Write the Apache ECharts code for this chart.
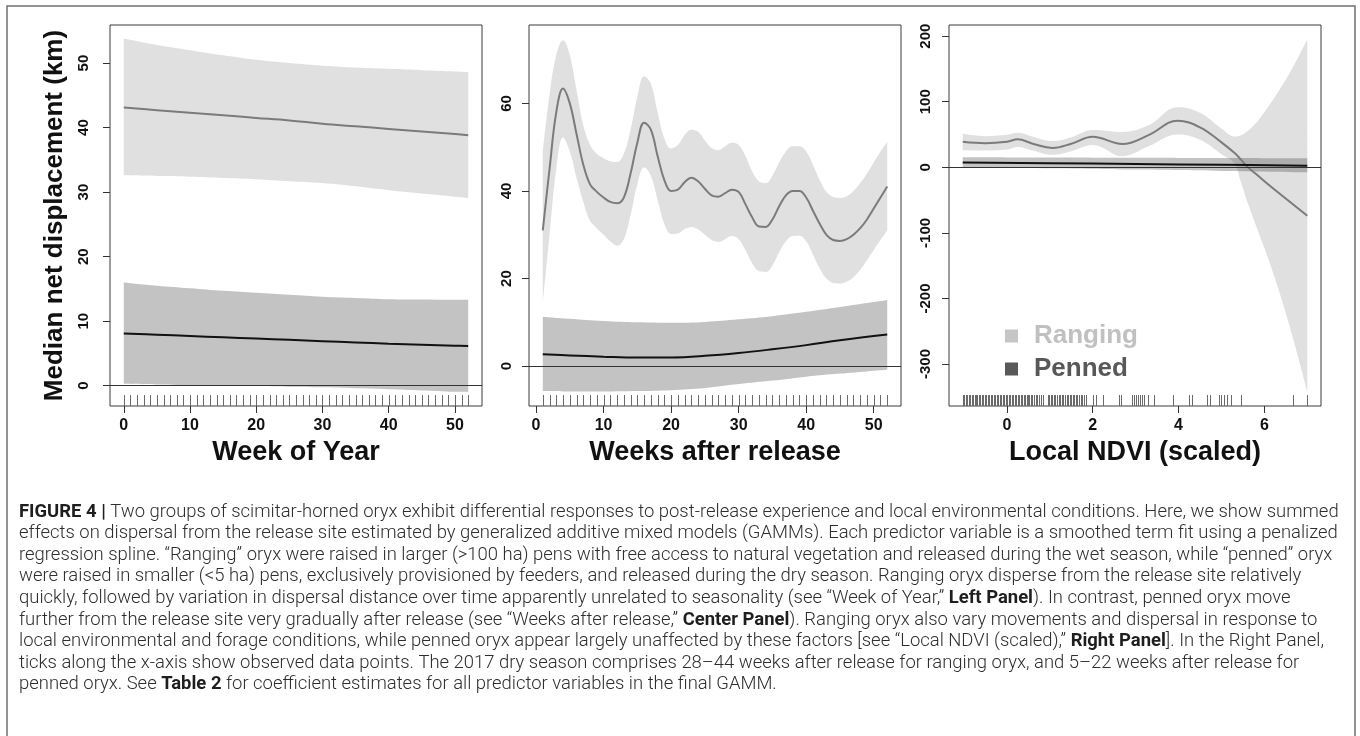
<!DOCTYPE html>
<html>
<head>
<meta charset="utf-8">
<script src="https://cdn.jsdelivr.net/npm/echarts@6/dist/echarts.min.js"></script>
<style>
  html, body { margin: 0; padding: 0; background: #fff; }
  #chart { width: 1360px; height: 736px; }
</style>
</head>
<body>
<div id="chart"></div>
<script>
// ---------- Left panel: Week of Year ----------
const woyX          = [0, 5, 10, 15, 20, 25, 30, 35, 40, 45, 50, 52];
const woyRangingFit = [43.1, 42.7, 42.3, 41.9, 41.5, 41.1, 40.6, 40.2, 39.8, 39.4, 39.0, 38.8];
const woyRangingHi  = [53.8, 52.8, 52.0, 51.2, 50.5, 50.0, 49.6, 49.3, 49.1, 48.9, 48.7, 48.6];
const woyRangingLo  = [32.6, 32.5, 32.4, 32.2, 32.0, 31.7, 31.4, 30.9, 30.3, 29.8, 29.3, 29.1];
const woyPennedFit  = [8.1, 7.9, 7.7, 7.5, 7.3, 7.1, 6.9, 6.7, 6.5, 6.35, 6.2, 6.15];
const woyPennedHi   = [16.0, 15.5, 15.1, 14.7, 14.4, 14.1, 13.8, 13.6, 13.4, 13.35, 13.3, 13.3];
const woyPennedLo   = [0.3, 0.2, 0.1, 0.0, -0.05, -0.15, -0.25, -0.4, -0.55, -0.75, -0.95, -1.0];
const woyRug = [0,1,2,3,4,5,6,7,8,9,10,11,12,13,14,15,16,17,18,19,20,21,22,23,24,25,26,
                27,28,29,30,31,32,33,34,35,36,37,38,39,40,41,42,43,44,45,46,47,48,49,50,51,52];
const woyTicks  = [0, 10, 20, 30, 40, 50];
const woyYTicks = [0, 10, 20, 30, 40, 50];

// ---------- Centre panel: Weeks after release ----------
const warX = [1,2,3,4,5,6,7,8,9,10,11,12,13,14,15,16,17,18,19,20,21,22,23,24,25,26,
              27,28,29,30,31,32,33,34,35,36,37,38,39,40,41,42,43,44,45,46,47,48,49,50,51,52];
const warRangingFit = [31.0,45,58,63.4,60,53,46,41.5,39.8,38.5,37.5,37.2,38.5,44,51,55.6,54,48,42.5,40,
                       40.3,42,43,42.2,40.5,39,38.7,39.5,40.3,39.8,37,34,31.9,31.8,33.5,36.5,39,40,40,38.5,
                       35.5,32.5,30,28.8,28.6,29,30,31.5,33.5,36,38.5,41];
const warRangingHi  = [49,62,71,74.4,71,63,55,50.5,48.5,47.5,46.8,46.6,48.5,54,61.5,66.2,64.5,58,52,49.7,
                       50.5,52.8,54,53.5,51.5,49.8,49.3,50.2,51,50.5,48,44.5,42.2,41.8,43.5,46.5,49,50.2,50.2,49,
                       46,42.5,39.8,38.6,38.4,38.8,40,41.8,44,46.5,49,51.2];
const warRangingLo  = [14.4,30,45,52.2,49,43,37.5,33.2,31.5,30,28.5,27.5,29,34.5,41.5,45.4,43.5,38,32.5,30.2,
                       30.3,31.3,31.8,31.2,30,28.8,28.4,29,29.7,29,26.5,23.5,21.7,21.5,23,26,28.5,29.7,29.8,28.5,
                       25.5,22.3,20,19,18.9,19.3,20.3,22,24.2,26.5,28.8,31];
const warPennedX   = [1, 5, 10, 15, 20, 25, 30, 35, 40, 45, 52];
const warPennedFit = [2.7, 2.45, 2.15, 1.95, 1.98, 2.35, 3.0, 3.85, 4.8, 5.9, 7.2];
const warPennedHi  = [11.3, 10.8, 10.3, 10.0, 9.9, 10.1, 10.7, 11.4, 12.4, 13.5, 15.1];
const warPennedLo  = [-5.7, -5.8, -5.8, -5.7, -5.5, -5.0, -4.1, -3.3, -2.4, -1.7, -0.8];
const warRug = warX;
const warTicks  = [0, 10, 20, 30, 40, 50];
const warYTicks = [0, 20, 40, 60];

// ---------- Right panel: Local NDVI (scaled) ----------
const ndviX          = [-1.03,-0.5,0,0.25,0.6,1.06,1.5,2.0,2.69,3.3,3.98,4.5,5.0,5.3,5.45,5.6,5.8,6.2,6.6,7.0];
const ndviRangingFit = [39,36.8,39,42.7,36,29.5,36,46.5,35.6,49,71,61,38,22,12,1,-10,-32,-53,-74];
const ndviRangingHi  = [51,47.5,49.5,52.5,46.5,40,46,57,54,64,91.5,83,59,47,48.5,55,67,103,145,195];
const ndviRangingLo  = [26,25.5,27,31,25.5,19,24.5,34,17,32,50,42,20,6,-22,-52,-88,-160,-245,-342];
const ndviPennedX   = [-1.03, 1, 3, 5, 7];
const ndviPennedFit = [7.5, 6.3, 5.0, 3.8, 2.5];
const ndviPennedHi  = [15.3, 14.9, 14.5, 14.1, 13.7];
const ndviPennedLo  = [0.5, -1.5, -3.5, -5.5, -7.6];
// observed NDVI values (rug)
const ndviRug = [
  -1.03,-0.99,-0.96,-0.93,-0.89,-0.86,-0.82,-0.79,-0.75,-0.72,-0.69,-0.65,-0.62,-0.58,-0.55,-0.51,
  -0.48,-0.44,-0.41,-0.38,-0.34,-0.31,-0.27,-0.24,-0.20,-0.17,-0.13,-0.10,-0.07,-0.03,0.01,0.04,
  0.08,0.11,0.15,0.18,0.21,0.25,0.28,0.32,0.35,0.39,0.42,0.46,0.49,0.52,0.56,0.59,0.63,0.67,0.71,
  0.75,0.79,0.85,
  0.95,0.99,1.02,1.06,1.10,1.13,1.17,1.21,1.24,1.28,1.31,1.35,1.39,1.42,1.46,1.50,1.53,1.57,1.61,
  1.64,1.68,1.72,1.76,1.80,1.84,
  2.01,2.07,2.24,2.61,2.67,2.92,2.96,3.00,3.05,3.10,3.15,3.20,3.28,3.43,3.86,4.25,4.31,4.67,4.74,
  4.94,5.00,5.06,5.12,5.23,5.45,6.66,6.99
];
const ndviTicks  = [0, 2, 4, 6];
const ndviYTicks = [-300, -200, -100, 0, 100, 200];

// ---------- Caption ----------
const captionLines = [
  '{b|FIGURE 4 |} Two groups of scimitar-horned oryx exhibit differential responses to post-release experience and local environmental conditions. Here, we show summed',
  'effects on dispersal from the release site estimated by generalized additive mixed models (GAMMs). Each predictor variable is a smoothed term fit using a penalized',
  'regression spline. \u201cRanging\u201d oryx were raised in larger (>100 ha) pens with free access to natural vegetation and released during the wet season, while \u201cpenned\u201d oryx',
  'were raised in smaller (<5 ha) pens, exclusively provisioned by feeders, and released during the dry season. Ranging oryx disperse from the release site relatively',
  'quickly, followed by variation in dispersal distance over time apparently unrelated to seasonality (see \u201cWeek of Year,\u201d {b|Left Panel}). In contrast, penned oryx move',
  'further from the release site very gradually after release (see \u201cWeeks after release,\u201d {b|Center Panel}). Ranging oryx also vary movements and dispersal in response to',
  'local environmental and forage conditions, while penned oryx appear largely unaffected by these factors [see \u201cLocal NDVI (scaled),\u201d {b|Right Panel}]. In the Right Panel,',
  'ticks along the x-axis show observed data points. The 2017 dry season comprises 28\u201344 weeks after release for ranging oryx, and 5\u201322 weeks after release for',
  'penned oryx. See {b|Table 2} for coefficient estimates for all predictor variables in the final GAMM.'
];

// ---------- Styling ----------
const FONT = 'Liberation Sans, Arial, sans-serif';
const CAP_FONT = 'Roboto';
const RANGING_BAND = 'rgba(120,120,120,0.23)';
const PENNED_BAND  = 'rgba(60,60,60,0.31)';
const RANGING_LINE = '#7b7b7b';
const PENNED_LINE  = '#111111';

const panels = [
  { left: 110, xMin: -2.08, xMax: 54.08, yMin: -3.15, yMax: 55.9, xTicks: woyTicks, yTicks: woyYTicks,
    xName: 'Week of Year', yName: 'Median net displacement (km)', yLabelMargin: 19 },
  { left: 529, xMin: -1.04, xMax: 54.04, yMin: -9.1, yMax: 77.9, xTicks: warTicks, yTicks: warYTicks,
    xName: 'Weeks after release', yName: '', yLabelMargin: 15 },
  { left: 949, xMin: -1.35, xMax: 7.32, yMin: -364, yMax: 217, xTicks: ndviTicks, yTicks: ndviYTicks,
    xName: 'Local NDVI (scaled)', yName: '', yLabelMargin: 16 }
];
const GRID_TOP = 25, GRID_W = 372, GRID_H = 381;

const grid = panels.map(p => ({
  left: p.left, top: GRID_TOP, width: GRID_W, height: GRID_H,
  show: true, borderColor: '#3a3a3a', borderWidth: 1, backgroundColor: '#fff'
}));

const xAxis = panels.map((p, i) => ({
  gridIndex: i, type: 'value', min: p.xMin, max: p.xMax,
  splitLine: { show: false }, axisLine: { show: false, onZero: false },
  axisTick: { show: true, length: 7, customValues: p.xTicks, lineStyle: { color: '#333', width: 1 } },
  axisLabel: { customValues: p.xTicks, margin: 12, fontFamily: FONT, fontWeight: 'bold', fontSize: 16, color: '#111' },
  name: p.xName, nameLocation: 'middle', nameGap: 33,
  nameTextStyle: { fontFamily: FONT, fontWeight: 'bold', fontSize: 27, color: '#111' }
}));

const yAxis = panels.map((p, i) => ({
  gridIndex: i, type: 'value', min: p.yMin, max: p.yMax,
  splitLine: { show: false }, axisLine: { show: false, onZero: false },
  axisTick: { show: true, length: 7, customValues: p.yTicks, lineStyle: { color: '#333', width: 1 } },
  axisLabel: { customValues: p.yTicks, rotate: 90, margin: p.yLabelMargin, fontFamily: FONT, fontWeight: 'bold', fontSize: 15, color: '#111' },
  name: p.yName, nameLocation: 'middle', nameGap: 42, nameRotate: 90,
  nameTextStyle: { fontFamily: FONT, fontWeight: 'bold', fontSize: 26, color: '#111' }
}));

const pairs = (xs, ys) => xs.map((x, k) => [x, ys[k]]);

// confidence band: invisible lower edge plus stacked band width drawn as an area.
// Values sit in dimension 0 (stacked), x in dimension 1.
function band(id, gi, xs, lo, hi, color) {
  const common = {
    type: 'line', xAxisIndex: gi, yAxisIndex: gi, stack: id, stackStrategy: 'all',
    encode: { x: 1, y: 0 },
    symbol: 'none', smooth: 0.4, silent: true, animation: false,
    lineStyle: { width: 0, opacity: 0 }
  };
  return [
    Object.assign({}, common, { data: xs.map((x, k) => [lo[k], x]) }),
    Object.assign({}, common, { data: xs.map((x, k) => [hi[k] - lo[k], x]), areaStyle: { color: color, opacity: 1 } })
  ];
}

function fitLine(name, gi, xs, ys, color, withZero) {
  const s = {
    name: name, type: 'line', xAxisIndex: gi, yAxisIndex: gi, data: pairs(xs, ys),
    symbol: 'none', smooth: 0.4, silent: true, animation: false,
    lineStyle: { color: color, width: 2 }, itemStyle: { color: color }
  };
  if (withZero) {
    s.markLine = {
      silent: true, symbol: 'none', animation: false, label: { show: false },
      lineStyle: { color: '#333', width: 1, type: 'solid' }, data: [{ yAxis: 0 }]
    };
  }
  return s;
}

function rug(gi, values, yMin) {
  return {
    type: 'custom', xAxisIndex: gi, yAxisIndex: gi, silent: true, animation: false, clip: true,
    data: values.map(v => [v, yMin]),
    renderItem: function (params, api) {
      const p = api.coord([api.value(0), api.value(1)]);
      const x = Math.round(p[0]) + 0.5;
      return { type: 'line', shape: { x1: x, y1: p[1], x2: x, y2: p[1] - 11 },
               style: { stroke: '#6a6a6a', lineWidth: 1 } };
    }
  };
}

const series = [].concat(
  band('r0', 0, woyX, woyRangingLo, woyRangingHi, RANGING_BAND),
  band('p0', 0, woyX, woyPennedLo, woyPennedHi, PENNED_BAND),
  [rug(0, woyRug, panels[0].yMin),
   fitLine('Ranging', 0, woyX, woyRangingFit, RANGING_LINE, true),
   fitLine('Penned', 0, woyX, woyPennedFit, PENNED_LINE, false)],

  band('r1', 1, warX, warRangingLo, warRangingHi, RANGING_BAND),
  band('p1', 1, warPennedX, warPennedLo, warPennedHi, PENNED_BAND),
  [rug(1, warRug, panels[1].yMin),
   fitLine('Ranging', 1, warX, warRangingFit, RANGING_LINE, true),
   fitLine('Penned', 1, warPennedX, warPennedFit, PENNED_LINE, false)],

  band('r2', 2, ndviX, ndviRangingLo, ndviRangingHi, RANGING_BAND),
  band('p2', 2, ndviPennedX, ndviPennedLo, ndviPennedHi, PENNED_BAND),
  [rug(2, ndviRug, panels[2].yMin),
   fitLine('Ranging', 2, ndviX, ndviRangingFit, RANGING_LINE, true),
   fitLine('Penned', 2, ndviPennedX, ndviPennedFit, PENNED_LINE, false)]
);

// caption font size chosen so the first line spans the caption width
const ctx = document.createElement('canvas').getContext('2d');
function measure(str, weight, size) { ctx.font = weight + ' ' + size + 'px ' + CAP_FONT; return ctx.measureText(str).width; }
const first = captionLines[0];
const boldPart = 'FIGURE 4 |';
const restPart = first.replace('{b|FIGURE 4 |}', '');
const w100 = measure(boldPart, 700, 100) + measure(restPart, 300, 100);
const CAP_SIZE = 100 * 1321 / w100;

const caption = captionLines.map((line, k) => ({
  type: 'text', x: 19, y: 512 + k * 21.6, silent: true,
  style: {
    text: line, align: 'left', verticalAlign: 'middle',
    fontFamily: CAP_FONT, fontWeight: 300, fontSize: CAP_SIZE, fill: '#2e2e2e',
    rich: { b: { fontFamily: CAP_FONT, fontWeight: 700, fontSize: CAP_SIZE, fill: '#1e1e1e' } }
  }
}));

const option = {
  animation: false,
  backgroundColor: '#fff',
  grid: grid, xAxis: xAxis, yAxis: yAxis, series: series,
  legend: {
    selectedMode: false, orient: 'vertical', left: 1000, top: 318,
    icon: 'rect', itemWidth: 13, itemHeight: 13, itemGap: 7,
    textStyle: { fontFamily: FONT, fontWeight: 'bold', fontSize: 26, lineHeight: 26, padding: [0, 0, 0, 11] },
    data: [
      { name: 'Ranging', itemStyle: { color: '#c6c6c6' }, textStyle: { color: '#c0c0c0' } },
      { name: 'Penned',  itemStyle: { color: '#595959' }, textStyle: { color: '#585858' } }
    ]
  },
  graphic: [
    { type: 'rect', silent: true, z: -1,
      shape: { x: 7, y: 6, width: 1348, height: 800 },
      style: { fill: 'none', stroke: '#707070', lineWidth: 1.5 } }
  ].concat(caption)
};

const chart = echarts.init(document.getElementById('chart'), null, { renderer: 'canvas' });
chart.setOption(option);
</script>
</body>
</html>
